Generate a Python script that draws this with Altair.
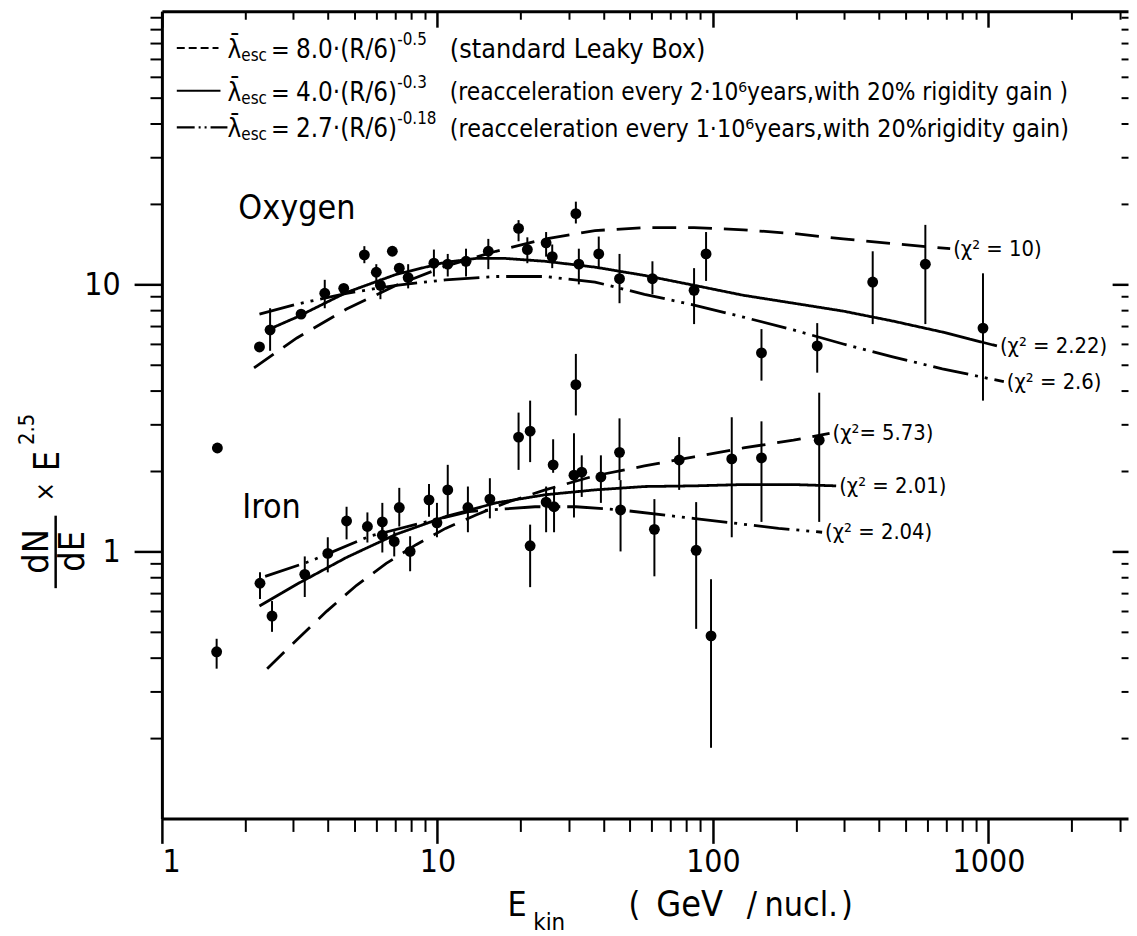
import altair as alt
import pandas as pd

FONT = "DejaVu Sans Condensed, DejaVu Sans, sans-serif"
OX, OY = 163, 8            # page position of the plot-area origin
W, H = 973, 813
X_MAX, Y_MAX = 3209, 105.3

# ---------------- measurements: Oxygen ----------------
o_E = [2.26, 2.47, 3.20, 3.90, 4.57, 5.43, 6.00, 6.21, 6.86, 7.27, 7.83, 9.71, 10.9, 12.7, 15.3, 19.7,
       21.2, 24.8, 26.1, 31.8, 32.6, 38.5, 45.8, 60.3, 85.4, 94.4, 150, 239, 380, 590, 955]
o_v = [5.83, 6.75, 7.74, 9.26, 9.66, 12.9, 11.1, 9.92, 13.3, 11.5, 10.6, 12.0, 11.9, 12.2, 13.3, 16.2,
       13.5, 14.3, 12.7, 18.4, 11.9, 13.0, 10.5, 10.5, 9.50, 13.0, 5.54, 5.88, 10.2, 11.9, 6.86]
o_hi = [None, 8.14, None, 10.4, None, 13.9, 11.9, 10.5, None, None, 11.9, 13.5, 13.0, 13.6, 14.8, 17.4,
        15.0, 15.7, 14.1, 20.4, 13.6, 15.1, 13.0, 12.2, 11.5, 15.7, 6.80, 7.16, 13.3, 16.7, 11.0]
o_lo = [None, 5.64, None, 8.14, None, 12.0, 9.83, 8.80, None, None, 9.66, 10.7, 10.7, 10.7, 11.4, 14.5,
        12.0, 12.7, 11.5, 16.9, 10.0, 11.4, 8.50, 9.18, 7.10, 10.3, 4.36, 4.67, 7.10, 7.10, 3.67]

# ---------------- measurements: Iron ----------------
fe_E = [1.59, 1.58, 2.27, 2.51, 3.30, 4.00, 4.68, 5.57, 6.31, 6.31, 6.97, 7.27, 7.96, 9.32, 9.96, 10.9,
        12.9, 15.5, 19.7, 21.7, 21.7, 24.8, 26.3, 26.5, 31.3, 33.4, 31.8, 39.2, 45.8, 46.2, 61.3, 75.4,
        86.9, 98.4, 117, 150, 243]
fe_v = [2.44, 0.421, 0.760, 0.573, 0.821, 0.983, 1.30, 1.24, 1.29, 1.15, 1.09, 1.46, 1.00, 1.56, 1.28, 1.70,
        1.46, 1.57, 2.68, 2.82, 1.05, 1.53, 2.11, 1.47, 1.93, 1.98, 4.21, 1.90, 2.35, 1.43, 1.21, 2.20,
        1.01, 0.483, 2.22, 2.24, 2.61]
fe_hi = [None, 0.471, 0.835, 0.652, 0.958, 1.13, 1.47, 1.40, 1.52, 1.32, 1.19, 1.73, 1.14, 1.79, 1.52, 2.11,
         1.75, 1.88, 3.31, 3.67, 1.26, 1.75, 2.63, 1.75, 2.77, 2.29, 5.49, 2.29, 3.15, 1.85, 1.57, 2.68,
         1.53, 0.787, 3.18, 3.07, 3.93]
fe_lo = [None, 0.364, 0.663, 0.500, 0.675, 0.835, 1.11, 1.08, 1.14, 0.991, 0.958, 1.24, 0.843, 1.35, 1.13, 1.37,
         1.18, 1.33, 2.02, 2.16, 0.735, 1.18, 1.97, 1.18, 1.34, 1.60, 3.23, 1.52, 1.85, 1.00, 0.807, 1.70,
         0.513, 0.184, 1.13, 1.29, 1.29]

# ---------------- model curves ----------------
o_lb_E = [2.16, 3.09, 4.68, 7.09, 10.7, 16.3, 24.6, 37.3, 56.4, 85.4, 129, 196, 297, 449, 726]
o_lb_v = [4.87, 6.30, 8.08, 9.92, 11.7, 13.3, 14.8, 15.9, 16.3, 16.3, 16.0, 15.5, 14.8, 14.2, 13.6]
o_r2_E = [2.37, 3.09, 4.68, 7.09, 10.7, 13.8, 17.7, 24.6, 37.3, 56.4, 85.4, 129, 196, 297, 449, 680, 1073]
o_r2_v = [6.69, 7.54, 9.33, 10.9, 12.1, 12.5, 12.5, 12.2, 11.6, 10.8, 9.92, 9.10, 8.50, 7.94, 7.29, 6.63, 5.88]
o_r1_E = [2.26, 3.09, 4.68, 7.09, 10.7, 16.3, 24.6, 37.3, 56.4, 85.4, 129, 196, 297, 449, 680, 1137]
o_r1_v = [7.74, 8.43, 9.26, 9.92, 10.4, 10.7, 10.7, 10.2, 9.18, 8.36, 7.54, 6.75, 5.98, 5.35, 4.83, 4.32]

fe_lb_E = [2.41, 3.09, 3.97, 5.09, 6.52, 8.37, 10.7, 13.8, 17.7, 24.6, 37.3, 56.4, 85.4, 129, 196, 265]
fe_lb_v = [0.364, 0.467, 0.598, 0.747, 0.902, 1.06, 1.22, 1.37, 1.52, 1.70, 1.92, 2.09, 2.26, 2.44, 2.61, 2.77]
fe_r2_E = [2.26, 3.09, 4.68, 7.09, 10.7, 16.3, 24.6, 37.3, 56.4, 85.4, 129, 196, 280]
fe_r2_v = [0.625, 0.754, 0.950, 1.16, 1.35, 1.52, 1.63, 1.70, 1.75, 1.76, 1.78, 1.78, 1.76]
fe_r1_E = [2.37, 3.44, 5.67, 9.09, 13.0, 22.6, 31.8, 46.2, 84.7, 117, 173, 249]
fe_r1_v = [0.807, 0.918, 1.14, 1.29, 1.41, 1.47, 1.47, 1.43, 1.33, 1.28, 1.22, 1.18]

models = ["lb", "r2", "r1"]
chi_labels = {
    ("O", "lb"): "(χ² = 10)", ("O", "r2"): "(χ² = 2.22)", ("O", "r1"): "(χ² = 2.6)",
    ("Fe", "lb"): "(χ²= 5.73)", ("Fe", "r2"): "(χ² = 2.01)", ("Fe", "r1"): "(χ² = 2.04)",
}
chi_dy = {("Fe", "r1"): 8}

# tick values
x_major = [1, 10, 100, 1000]
x_minor = [2, 3, 4, 5, 6, 7, 8, 9, 20, 30, 40, 50, 60, 70, 80, 90,
           200, 300, 400, 500, 600, 700, 800, 900, 2000, 3000]
y_major = [1, 10]
y_minor = [0.2, 0.3, 0.4, 0.5, 0.6, 0.7, 0.8, 0.9, 2, 3, 4, 5, 6, 7, 8, 9,
           20, 30, 40, 50, 60, 70, 80, 90, 100]

# ---------------- tables ----------------
pts = pd.concat([
    pd.DataFrame({"el": "O", "E": o_E, "v": o_v, "lo": o_lo, "hi": o_hi}),
    pd.DataFrame({"el": "Fe", "E": fe_E, "v": fe_v, "lo": fe_lo, "hi": fe_hi}),
], ignore_index=True)
err = pts.dropna(subset=["lo", "hi"])

curve_src = {
    ("O", "lb"): (o_lb_E, o_lb_v), ("O", "r2"): (o_r2_E, o_r2_v), ("O", "r1"): (o_r1_E, o_r1_v),
    ("Fe", "lb"): (fe_lb_E, fe_lb_v), ("Fe", "r2"): (fe_r2_E, fe_r2_v), ("Fe", "r1"): (fe_r1_E, fe_r1_v),
}
rows, lab_rows = [], []
for (el, m), (E, v) in curve_src.items():
    for i, (e, y) in enumerate(zip(E, v)):
        rows.append({"curve": el + m, "model": m, "E": e, "v": y, "i": i})
    lab_rows.append({"model": m, "E": E[-1], "v": v[-1], "t": chi_labels[(el, m)],
                     "dy": chi_dy.get((el, m), 0)})
curves = pd.DataFrame(rows)
labels = pd.DataFrame(lab_rows)

xs = alt.Scale(type="log", domain=[1, X_MAX], nice=False)
ys = alt.Scale(type="log", domain=[0.1, Y_MAX], nice=False)

common = dict(grid=False, title=None, tickColor="black", domainColor="black",
              labelColor="black", labelFont=FONT)
AX_bot_major = alt.Axis(orient="bottom", values=x_major, tickSize=25, tickWidth=2.5, domain=True,
                        domainWidth=3, labelFontSize=32, labelPadding=3, format="d", **common)
AX_bot_minor = alt.Axis(orient="bottom", values=x_minor, tickSize=13, tickWidth=2, domain=False,
                        labels=False, **common)
AX_top_major = alt.Axis(orient="bottom", offset=-H, values=x_major, tickSize=16, tickWidth=2.5,
                        domain=True, domainWidth=3, labels=False, **common)
AX_top_minor = alt.Axis(orient="bottom", offset=-H, values=x_minor, tickSize=8, tickWidth=2,
                        domain=False, labels=False, **common)
AY_left_major = alt.Axis(orient="left", values=y_major, tickSize=28, tickWidth=2.5, domain=True,
                         domainWidth=3, labelFontSize=32, labelPadding=14, format="d", **common)
AY_left_minor = alt.Axis(orient="left", values=y_minor, tickSize=12, tickWidth=2, domain=False,
                         labels=False, **common)
AY_right_major = alt.Axis(orient="left", offset=-W, values=y_major, tickSize=16, tickWidth=2.5,
                          domain=False, labels=False, **common)
AY_right_minor = alt.Axis(orient="left", offset=-W, values=y_minor, tickSize=7, tickWidth=2,
                          domain=False, labels=False, **common)

errbars = alt.Chart(err).mark_rule(color="black", strokeWidth=2).encode(
    x=alt.X("E:Q", scale=xs, axis=AX_bot_major),
    y=alt.Y("lo:Q", scale=ys, axis=AY_left_major),
    y2="hi:Q",
)
points = alt.Chart(pts).mark_circle(color="black", opacity=1, size=120).encode(
    x=alt.X("E:Q", scale=xs, axis=AX_bot_minor),
    y=alt.Y("v:Q", scale=ys, axis=AY_left_minor),
)
lines = alt.Chart(curves).mark_line(color="black", strokeWidth=2.8).encode(
    x=alt.X("E:Q", scale=xs, axis=AX_top_major),
    y=alt.Y("v:Q", scale=ys, axis=AY_right_major),
    detail="curve:N",
    order="i:Q",
    strokeDash=alt.StrokeDash("model:N", legend=None, scale=alt.Scale(
        domain=models, range=[[24, 12], [1, 0], [36, 7, 3, 7, 3, 7]])),
)
chi = alt.Chart(labels).mark_text(align="left", baseline="middle", dx=3, font=FONT,
                                  fontSize=22, color="black").encode(
    x=alt.X("E:Q", scale=xs, axis=AX_top_minor),
    y=alt.Y("v:Q", scale=ys, axis=AY_right_minor),
    yOffset=alt.YOffset("dy:Q", scale=None),
    text="t:N",
)

dummy = pd.DataFrame({"k": [0]})


def txt(text, x, y, size, align="left", baseline="middle", angle=0):
    return alt.Chart(dummy).mark_text(text=text, font=FONT, fontSize=size, align=align,
                                      baseline=baseline, angle=angle, color="black").encode(
        x=alt.value(x - OX), y=alt.value(y - OY))


def seg(x1, x2, y, dash):
    return alt.Chart(dummy).mark_rule(color="black", strokeWidth=2.2, strokeDash=dash).encode(
        x=alt.value(x1 - OX), x2=alt.value(x2 - OX), y=alt.value(y - OY))


LAM = "\u03bb\u0304"
ann = []
# legend rows: (line y, text y, dash, line end, formula, exponent, description, desc size)
legend_rows = [
    (45, 47, [8, 4], 220, "8.0·(R/6)", "-0.5", "(standard Leaky Box)", 27),
    (88, 90, [1, 0], 222, "4.0·(R/6)", "-0.3",
     "(reacceleration every 2·10⁶years,with 20% rigidity gain )", 24.4),
    (125, 127, [18, 4, 2, 4, 2, 4], 229, "2.7·(R/6)", "-0.18",
     "(reacceleration every 1·10⁶years,with 20%rigidity gain)", 25),
]
for yl, yc, dash, xend, formula, expo, desc, dsize in legend_rows:
    ann.append(seg(178, xend, yl, dash))
    ann.append(txt(LAM, 229, yc, 26))
    ann.append(txt("esc", 243, yc + 6, 17))
    ann.append(txt("=", 273, yc, 25))
    ann.append(txt(formula, 298, yc, 26))
    ann.append(txt(expo, 400, yc - 10, 17))
    ann.append(txt(desc, 453, yc, dsize))

# element names
ann.append(txt("Oxygen", 240, 217, 34, baseline="alphabetic"))
ann.append(txt("Iron", 244, 518, 34, baseline="alphabetic"))

# y-axis title (rotated fraction)
ann.append(txt("dN", 37, 552, 36, align="center", angle=270))
ann.append(alt.Chart(dummy).mark_rule(color="black", strokeWidth=2.5).encode(
    x=alt.value(56 - OX), y=alt.value(516 - OY), y2=alt.value(589 - OY)))
ann.append(txt("dE", 74, 552, 36, align="center", angle=270))
ann.append(txt("×", 46, 492, 26, align="center", angle=270))
ann.append(txt("E", 48, 461, 36, align="center", angle=270))
ann.append(txt("2.5", 27, 429, 22, align="center", angle=270))

# x-axis title
ann.append(txt("E", 511, 919, 34, baseline="alphabetic"))
ann.append(txt("kin", 537, 933, 24, baseline="alphabetic"))
ann.append(txt("(", 633, 919, 34, baseline="alphabetic"))
ann.append(txt("GeV", 661, 919, 36, baseline="alphabetic"))
ann.append(txt("/", 752, 919, 34, baseline="alphabetic"))
ann.append(txt("nucl.", 770, 919, 34, baseline="alphabetic"))
ann.append(txt(")", 847, 919, 34, baseline="alphabetic"))

data_layers = alt.layer(errbars, points, lines, chi).resolve_axis(x="independent", y="independent")

chart = alt.layer(data_layers, *ann).properties(
    width=W, height=H,
    padding={"left": 155, "top": 0, "right": 1, "bottom": 114},
    autosize=alt.AutoSizeParams(type="none"),
    background="white",
).configure_view(strokeWidth=0)

chart.save("out.html", embed_options={"renderer": "svg", "actions": False})
